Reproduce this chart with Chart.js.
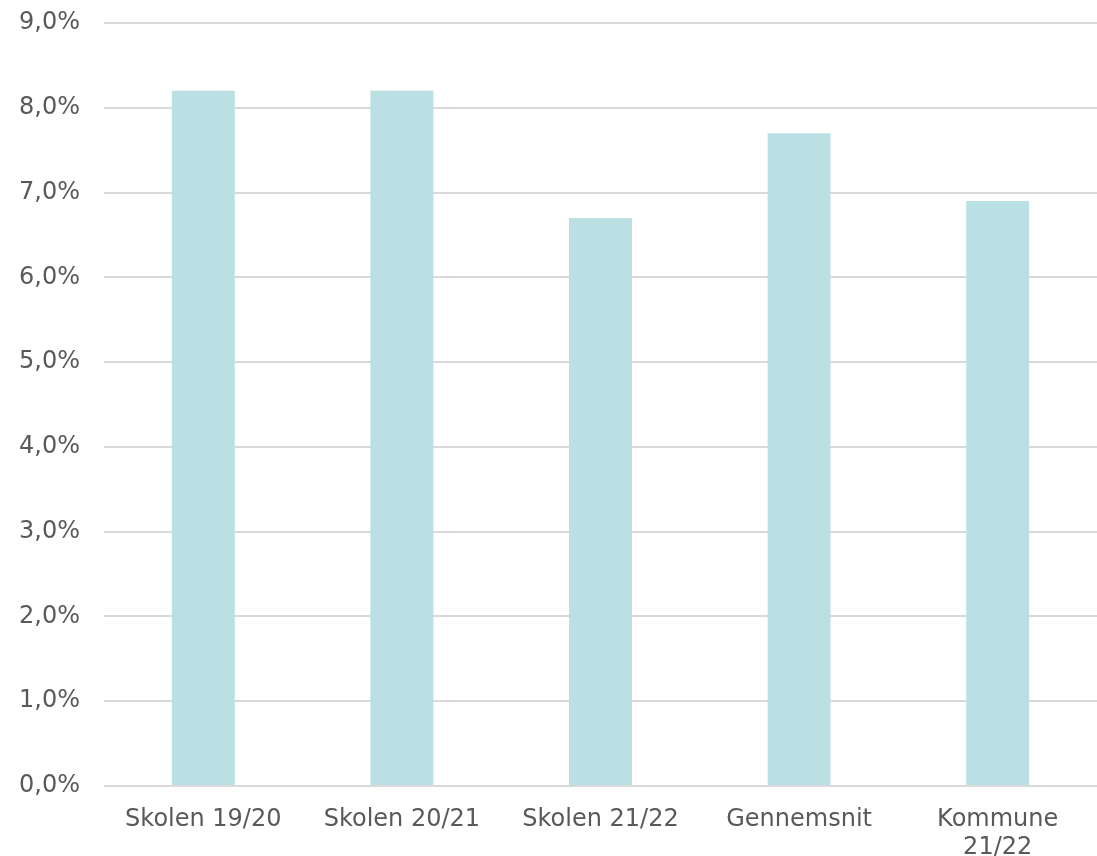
<!DOCTYPE html>
<html>
<head>
<meta charset="utf-8">
<script src="https://cdn.jsdelivr.net/npm/chart.js@4"></script>
<style>
  html, body { margin: 0; padding: 0; background: #fff; }
  #wrap { width: 1097px; height: 856px; }
</style>
</head>
<body>
<div id="wrap"><canvas id="fravaerChart"></canvas></div>
<script>
const labels = ['Skolen 19/20', 'Skolen 20/21', 'Skolen 21/22', 'Gennemsnit', ['Kommune', '21/22']];
const fravaer = [8.2, 8.2, 6.7, 7.7, 6.9];

const ctx = document.getElementById('fravaerChart').getContext('2d');

const chart = new Chart(ctx, {
  type: 'bar',
  data: {
    labels: labels,
    datasets: [
      {
        label: 'Fravær',
        data: fravaer,
        backgroundColor: '#bae0e3',
        borderWidth: 0,
        categoryPercentage: 1,
        barPercentage: 0.317
      }
    ]
  },
  options: {
    animation: false,
    responsive: true,
    maintainAspectRatio: false,
    layout: { padding: { top: 23, right: 0, bottom: 0, left: 0 } },
    plugins: {
      legend: { display: false },
      tooltip: { enabled: false }
    },
    scales: {
      x: {
        grid: { display: false },
        border: { display: false },
        ticks: {
          color: '#595959',
          font: { family: 'DejaVu Sans', size: 24 },
          padding: 11,
          maxRotation: 0,
          autoSkip: false
        },
        afterFit: (s) => { s.height = 70; s.paddingLeft = 0; s.paddingRight = 0; }
      },
      y: {
        min: 0,
        max: 9,
        grid: { color: '#d9d9d9', lineWidth: 2, drawTicks: false },
        border: { display: false },
        ticks: {
          stepSize: 1,
          color: '#595959',
          font: { family: 'DejaVu Sans', size: 24 },
          padding: 24,
          callback: (v) => v.toFixed(1).replace('.', ',') + '%'
        },
        afterFit: (s) => { s.width = 104; s.paddingTop = 0; s.paddingBottom = 0; }
      }
    }
  }
});
</script>
</body>
</html>
